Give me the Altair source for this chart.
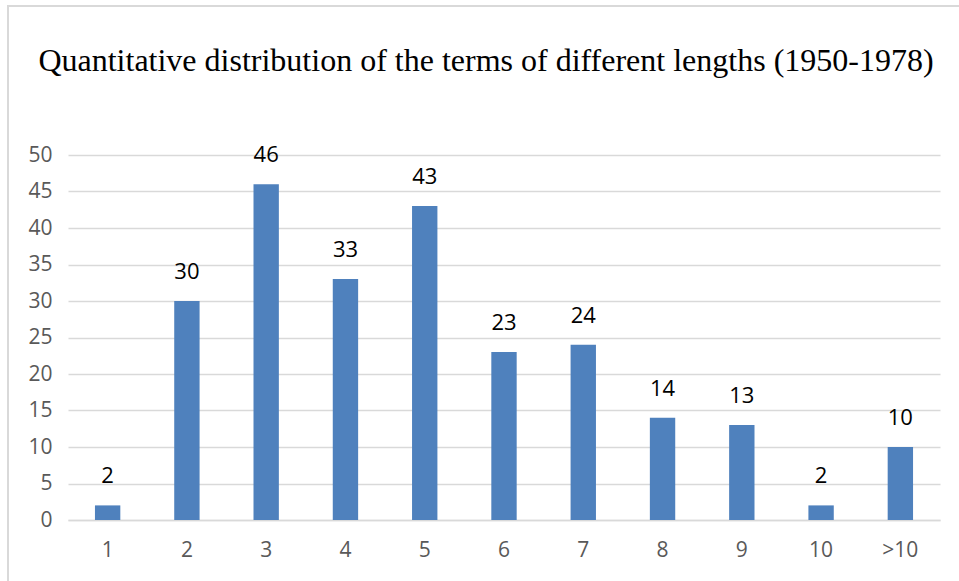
import altair as alt
import pandas as pd

categories = ["1", "2", "3", "4", "5", "6", "7", "8", "9", "10", ">10"]
counts = [2, 30, 46, 33, 43, 23, 24, 14, 13, 2, 10]
y_ticks = [0, 5, 10, 15, 20, 25, 30, 35, 40, 45, 50]
title_text = "Quantitative distribution of the terms of different lengths (1950-1978)"

df = pd.DataFrame({"length": categories, "count": counts})

x_enc = alt.X("length:N", sort=categories, title=None,
              scale=alt.Scale(paddingInner=0.68, paddingOuter=0.34),
              axis=alt.Axis(labelAngle=0, labelPadding=19, ticks=False,
                            domainColor="#d9d9d9", domainWidth=1.5, grid=False))
y_enc = alt.Y("count:Q", title=None,
              scale=alt.Scale(domain=[0, 50], nice=False, zero=True),
              axis=alt.Axis(values=y_ticks, labelPadding=16, ticks=False,
                            labelOverlap=False, domain=False,
                            gridColor="#d9d9d9", gridWidth=1.5))

base = alt.Chart(df).encode(x=x_enc, y=y_enc)

bars = base.mark_bar(color="#4F81BD")

labels = base.mark_text(font="Open Sans", fontSize=22, color="#000000",
                        baseline="alphabetic", dy=-22).encode(
    text=alt.Text("count:Q"),
)

frame = alt.Chart(df).mark_rect(fill=None, stroke="#d9d9d9", strokeWidth=1.5).encode(
    x=alt.value(-60), x2=alt.value(920), y=alt.value(-149), y2=alt.value(440)
)

title = alt.Chart(pd.DataFrame({"t": [title_text]})).mark_text(
    font="Liberation Serif", fontSize=32, color="#000000",
    align="center", baseline="alphabetic",
).encode(x=alt.value(418), y=alt.value(-84), text="t:N")

chart = alt.layer(bars, labels, frame, title).properties(
    width=872,
    height=365,
    autosize=alt.AutoSizeParams(type="none"),
    padding={"left": 68, "top": 155, "right": 19, "bottom": 61},
).configure(background="white").configure_view(
    strokeWidth=0, stroke="transparent"
).configure_axis(
    labelFont="Open Sans", labelFontSize=21, labelColor="#595959"
)

chart.save("out.html", embed_options={"renderer": "svg", "actions": False})
